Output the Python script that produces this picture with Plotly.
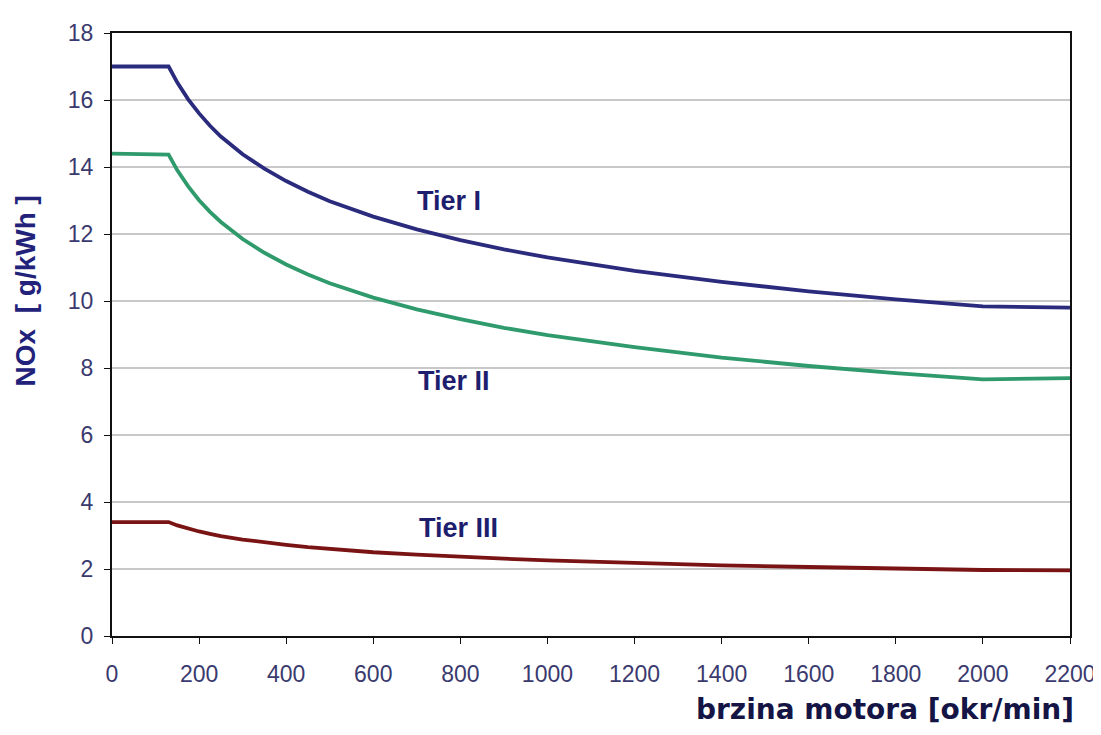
import plotly.graph_objects as go

rpm = [0, 130, 150, 175, 200, 225, 250, 300, 350, 400, 450, 500, 600, 700, 800, 900, 1000,
       1200, 1400, 1600, 1800, 2000, 2200]
tier1 = [17.0, 17.0, 16.52, 16.02, 15.60, 15.23, 14.91, 14.38, 13.95, 13.58, 13.26, 12.98,
         12.52, 12.14, 11.82, 11.54, 11.30, 10.90, 10.57, 10.29, 10.05, 9.84, 9.8]
tier2 = [14.4, 14.37, 13.90, 13.42, 13.01, 12.66, 12.36, 11.85, 11.44, 11.09, 10.79, 10.53,
         10.10, 9.75, 9.46, 9.20, 8.98, 8.62, 8.31, 8.06, 7.85, 7.66, 7.7]
tier3 = [3.4, 3.40, 3.30, 3.20, 3.12, 3.05, 2.98, 2.88, 2.79, 2.72, 2.65, 2.60,
         2.50, 2.43, 2.36, 2.31, 2.26, 2.18, 2.11, 2.06, 2.01, 1.97, 1.96]
labels = ["Tier I", "Tier II", "Tier III"]
label_x = [774, 785, 795]
label_y = [12.98, 7.6, 3.23]
colors = ["#2b2b7e", "#2f9b6c", "#7a1414"]

fig = go.Figure()
for name, ys, c in zip(labels, [tier1, tier2, tier3], colors):
    fig.add_trace(go.Scatter(x=rpm, y=ys, mode="lines", name=name,
                             line=dict(color=c, width=3.8)))

for t, lx, ly in zip(labels, label_x, label_y):
    fig.add_annotation(x=lx, y=ly, text="<b>" + t + "</b>", showarrow=False,
                       font=dict(family="Liberation Sans, Arial", size=27, color="#1e1e6e"),
                       xanchor="center", yanchor="middle")

fig.add_annotation(xref="paper", yref="paper", x=1.006, y=-0.122, text="<b>brzina motora [okr/min]</b>",
                   showarrow=False, xanchor="right", yanchor="middle",
                   font=dict(family="DejaVu Sans, Verdana", size=28, color="#151545"))
fig.add_annotation(xref="paper", yref="paper", x=-0.0898, y=0.573, text="<b>NOx  [ g/kWh ]</b>",
                   showarrow=False, textangle=-90, xanchor="center", yanchor="middle",
                   font=dict(family="Liberation Sans, Arial", size=28, color="#22227a"))

tick_font = dict(family="Liberation Sans, Arial", size=23, color="#3a3a6e")
fig.update_xaxes(range=[0, 2200], tickvals=list(range(0, 2201, 200)), showgrid=False,
                 ticks="outside", ticklen=6, tickcolor="#111", showline=True, linecolor="#111",
                 linewidth=2, mirror=True, tickfont=tick_font, zeroline=False, ticklabelstandoff=10)
fig.update_yaxes(range=[0, 18], tickvals=list(range(0, 19, 2)), showgrid=True, gridcolor="#c8c8c8",
                 gridwidth=1.5, ticks="outside", ticklen=6, tickcolor="#111", showline=True,
                 linecolor="#111", linewidth=2, mirror=True, tickfont=tick_font, zeroline=False,
                 ticklabelstandoff=6)
fig.update_layout(width=1101, height=735, margin=dict(l=104, r=39, t=15, b=107),
                  showlegend=False, plot_bgcolor="white", paper_bgcolor="white")
fig.write_html("out.html")
